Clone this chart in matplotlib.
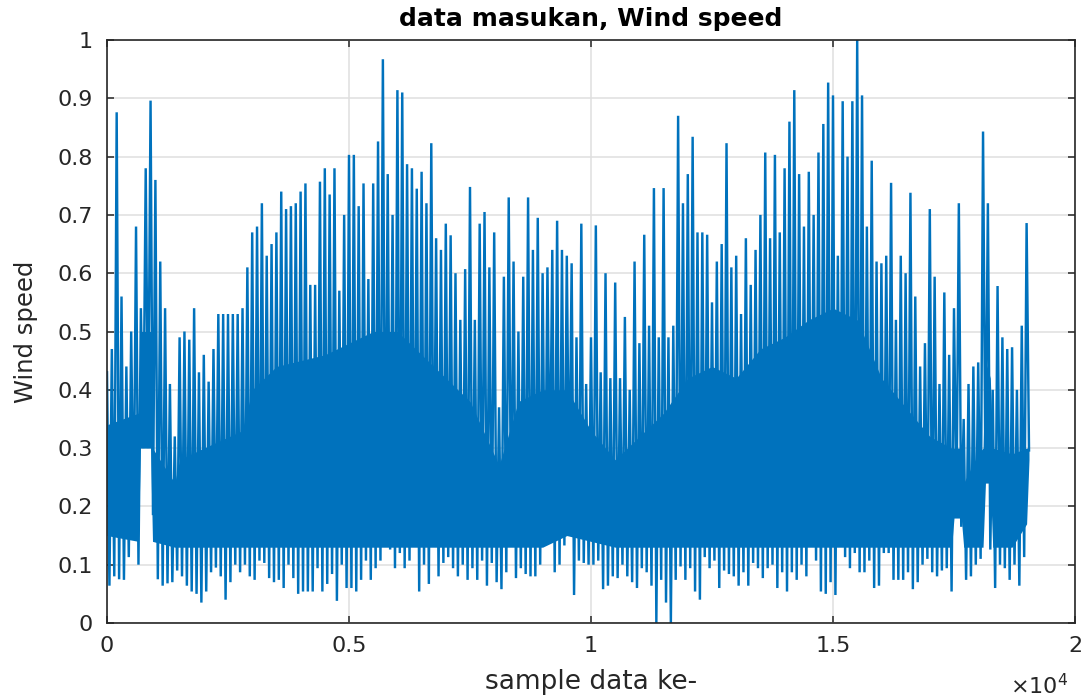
import numpy as np
import matplotlib
matplotlib.use("Agg")
import matplotlib.pyplot as plt

# ======================
# Data
# ======================
# sample spacing of the read-off points
step = 100

# spike tops, one per 100 samples (sample 0, 100, 200, ...)
wind_hi = [
    0.43, 0.47, 0.876, 0.56, 0.44, 0.50, 0.68, 0.54, 0.78, 0.896,
    0.76, 0.62, 0.54, 0.41, 0.32, 0.49, 0.50, 0.486, 0.54, 0.43,
    0.46, 0.414, 0.47, 0.53, 0.53, 0.53, 0.53, 0.53, 0.54, 0.61,
    0.67, 0.68,
    0.72, 0.63, 0.65, 0.67, 0.74, 0.71, 0.715, 0.72, 0.74, 0.754,
    0.58, 0.58, 0.757, 0.78, 0.735, 0.78, 0.57, 0.70, 0.803, 0.803,
    0.715, 0.754, 0.59, 0.754, 0.826, 0.967, 0.77, 0.70, 0.914, 0.91,
    0.787, 0.78,
    0.745, 0.774, 0.72, 0.823, 0.66, 0.64, 0.685, 0.665, 0.60, 0.52,
    0.607, 0.748, 0.52, 0.685, 0.705, 0.61, 0.67, 0.37, 0.594, 0.73,
    0.62, 0.50, 0.594, 0.73, 0.64, 0.695, 0.60, 0.61, 0.64, 0.69,
    0.64, 0.63,
    0.617, 0.49, 0.685, 0.41, 0.49, 0.682, 0.43, 0.60, 0.42, 0.584,
    0.42, 0.525, 0.40, 0.62, 0.48, 0.666, 0.51, 0.746, 0.49, 0.746,
    0.49, 0.51, 0.87, 0.72, 0.77, 0.834, 0.67, 0.67, 0.666, 0.55,
    0.62, 0.65,
    0.823, 0.61, 0.63, 0.53, 0.66, 0.58, 0.64, 0.70, 0.807, 0.66,
    0.803, 0.67, 0.78, 0.86, 0.914, 0.77, 0.68, 0.774, 0.70, 0.807,
    0.856, 0.927, 0.905, 0.63, 0.895, 0.80, 0.895, 1.0, 0.905, 0.68,
    0.793, 0.62,
    0.617, 0.63, 0.755, 0.52, 0.63, 0.60, 0.738, 0.56, 0.44, 0.48,
    0.71, 0.594, 0.41, 0.567, 0.46, 0.54, 0.72, 0.35, 0.41, 0.44,
    0.447, 0.843, 0.72, 0.40, 0.578, 0.49, 0.47, 0.473, 0.40, 0.51,
    0.686,
]

# dips, one per 100 samples (sample 50, 150, 250, ...)
wind_lo = [
    0.064, 0.08, 0.075, 0.074, 0.113, 0.146, 0.10, 0.30, 0.30, 0.185,
    0.075, 0.064, 0.068, 0.07, 0.09, 0.08, 0.064, 0.054, 0.05, 0.035,
    0.054, 0.087, 0.095, 0.08, 0.04, 0.07, 0.10, 0.087, 0.10, 0.08,
    0.074,
    0.107, 0.103, 0.077, 0.07, 0.074, 0.06, 0.10, 0.077, 0.05, 0.054,
    0.054, 0.054, 0.094, 0.054, 0.067, 0.084, 0.038, 0.10, 0.06, 0.06,
    0.054, 0.074, 0.107, 0.074, 0.094, 0.107, 0.15, 0.126, 0.094, 0.12,
    0.094, 0.107,
    0.135, 0.054, 0.10, 0.067, 0.14, 0.08, 0.103, 0.113, 0.094, 0.08,
    0.10, 0.074, 0.094, 0.074, 0.107, 0.064, 0.103, 0.07, 0.058, 0.087,
    0.14, 0.077, 0.094, 0.084, 0.08, 0.08, 0.10, 0.15, 0.224, 0.087,
    0.10, 0.133, 0.20,
    0.048, 0.107, 0.103, 0.10, 0.10, 0.107, 0.058, 0.064, 0.08, 0.077,
    0.10, 0.08, 0.07, 0.06, 0.094, 0.087, 0.064, 0.0, 0.074, 0.035,
    0.0, 0.074, 0.097, 0.074, 0.094, 0.054, 0.04, 0.113, 0.094, 0.107,
    0.06,
    0.09, 0.084, 0.08, 0.064, 0.087, 0.064, 0.103, 0.094, 0.077, 0.094,
    0.10, 0.06, 0.087, 0.054, 0.087, 0.074, 0.10, 0.08, 0.15, 0.107,
    0.054, 0.05, 0.07, 0.048, 0.14, 0.113, 0.094, 0.12, 0.087, 0.087,
    0.107, 0.06,
    0.064, 0.12, 0.12, 0.074, 0.074, 0.074, 0.087, 0.058, 0.07, 0.10,
    0.11, 0.087, 0.08, 0.09, 0.094, 0.054, 0.185, 0.165, 0.074, 0.08,
    0.10, 0.11, 0.24, 0.126, 0.06, 0.10, 0.094, 0.074, 0.10, 0.064,
    0.113, 0.296,
]

# solid core of the trace (sample, bottom, top)
core_x = [0, 650, 690, 900, 940, 1400, 1500, 2000, 2800, 3000, 3500, 4000,
          4500, 5000, 5500, 6000, 6500, 7000, 7500, 8100, 8500, 9000, 9500,
          10000, 10500, 11000, 11500, 12000, 12500, 13000, 13500, 14000,
          14500, 15000, 15500, 16000, 16500, 17000, 17450, 17500, 17650,
          17700, 18000, 18100, 18150, 18250, 18300, 18700, 19000, 19050]
core_bot = [0.15, 0.14, 0.30, 0.30, 0.14, 0.13, 0.13, 0.13, 0.13, 0.13, 0.13,
            0.13, 0.13, 0.13, 0.13, 0.13, 0.13, 0.13, 0.13, 0.13, 0.13, 0.13,
            0.15, 0.14, 0.13, 0.13, 0.13, 0.13, 0.13, 0.13, 0.13, 0.13, 0.13,
            0.13, 0.13, 0.13, 0.13, 0.13, 0.13, 0.18, 0.18, 0.13, 0.13, 0.13,
            0.24, 0.24, 0.13, 0.13, 0.17, 0.28]
core_top = [0.34, 0.36, 0.50, 0.50, 0.30, 0.24, 0.28, 0.30, 0.33, 0.40, 0.44,
            0.45, 0.46, 0.48, 0.50, 0.50, 0.46, 0.42, 0.38, 0.27, 0.38, 0.40,
            0.40, 0.33, 0.28, 0.32, 0.36, 0.42, 0.44, 0.42, 0.47, 0.49, 0.52,
            0.54, 0.52, 0.42, 0.37, 0.32, 0.30, 0.30, 0.30, 0.24, 0.29, 0.30,
            0.45, 0.42, 0.30, 0.29, 0.30, 0.30]

x_ticks = [0, 5000, 10000, 15000, 20000]
x_ticklabels = ["0", "0.5", "1", "1.5", "2"]
y_ticks = [0, 0.1, 0.2, 0.3, 0.4, 0.5, 0.6, 0.7, 0.8, 0.9, 1]
y_ticklabels = ["0", "0.1", "0.2", "0.3", "0.4", "0.5", "0.6", "0.7", "0.8", "0.9", "1"]

# ======================
# Plot
# ======================
blue = "#0072BD"
dark = "#262626"

n = min(len(wind_hi), len(wind_lo))
xs = np.empty(2 * n)
ys = np.empty(2 * n)
xs[0::2] = np.arange(n) * step
xs[1::2] = np.arange(n) * step + step / 2
ys[0::2] = wind_hi[:n]
ys[1::2] = wind_lo[:n]

plt.rcParams["font.family"] = ["DejaVu Sans"]

fig = plt.figure(figsize=(10.91, 6.98), dpi=100)
ax = fig.add_axes([107 / 1091, 1 - 623 / 698, 968 / 1091, 583 / 698])

ax.fill_between(core_x, core_bot, core_top, color=blue, linewidth=0)
ax.plot(xs, ys, color=blue, linewidth=1.75, solid_joinstyle="miter")

ax.set_xlim(0, 20000)
ax.set_ylim(0, 1)
ax.set_xticks(x_ticks)
ax.set_xticklabels(x_ticklabels)
ax.set_yticks(y_ticks)
ax.set_yticklabels(y_ticklabels)

ax.set_axisbelow(True)
ax.grid(True, color="#dfdfdf", linewidth=1.1)
for sp in ax.spines.values():
    sp.set_color(dark)
    sp.set_linewidth(1.2)
ax.tick_params(direction="in", length=5, width=1.1, top=True, right=True,
               colors=dark, labelsize=16)
ax.tick_params(axis="x", pad=9)
ax.tick_params(axis="y", pad=10)

ax.set_title("data masukan, Wind speed", fontsize=18, fontweight="bold",
             color="black", pad=10)
ax.set_xlabel("sample data ke-", fontsize=19, color=dark, labelpad=10)
ax.set_ylabel("Wind speed", fontsize=17.5, color=dark, labelpad=14)

fig.text(1068 / 1091, 1 - 694 / 698, r"$\times 10^{4}$", ha="right",
         va="baseline", fontsize=16, color=dark)

fig.savefig("out.png", dpi=100)
